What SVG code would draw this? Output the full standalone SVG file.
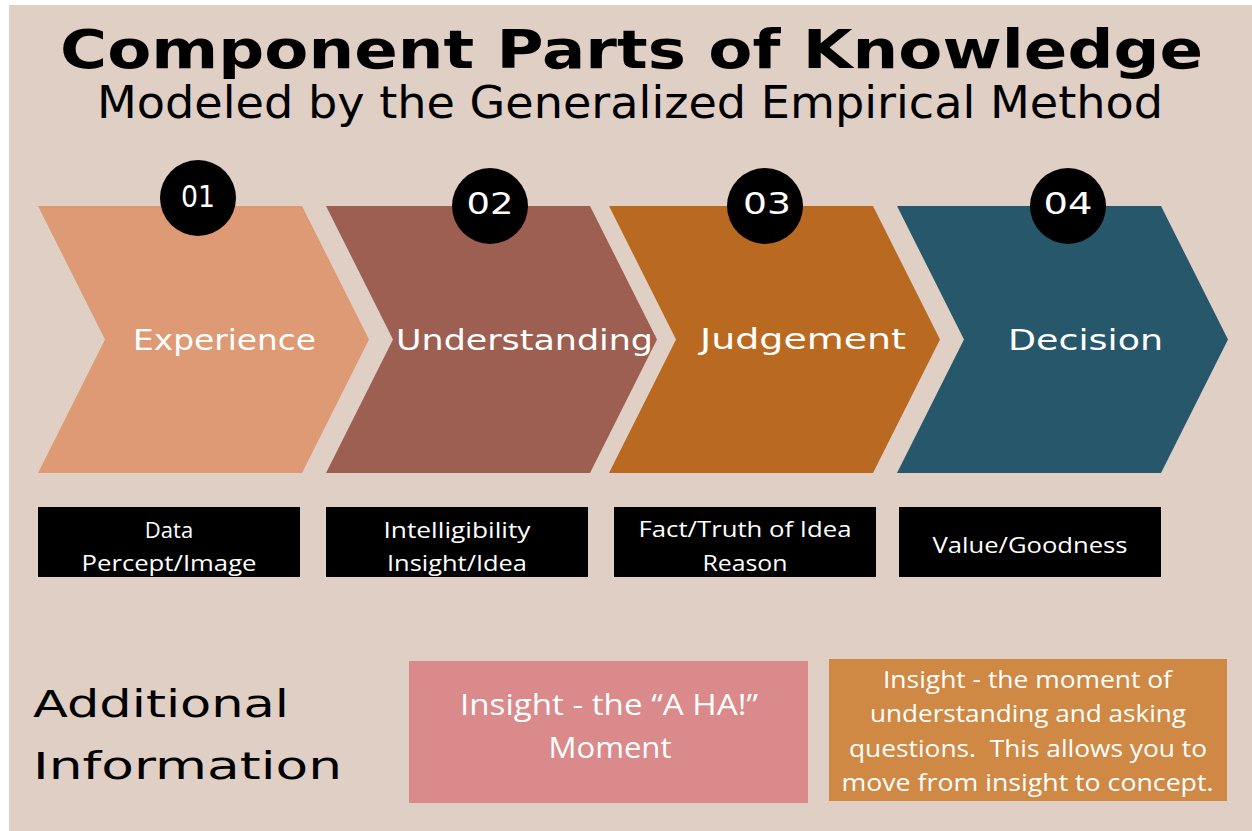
<svg xmlns="http://www.w3.org/2000/svg" xmlns:xlink="http://www.w3.org/1999/xlink" width="1252" height="831" viewBox="0 0 1252 831">
  <style>
    .wide { font-family: "DejaVu Sans", "Liberation Sans", sans-serif; }
    .title { font-size: 54px; font-weight: 700; fill: #000; }
    .subtitle { font-size: 44px; fill: #000; }
    .step { font-size: 28px; fill: #fff; text-anchor: middle; }
    .num { font-size: 31px; fill: #fff; text-anchor: middle; }
    .note { font-family: "Open Sans", "Liberation Sans", sans-serif; fill: #fff; text-anchor: middle; }
    .box-text { font-size: 22px; }
    .pink-text { font-size: 29px; }
    .orange-text { font-size: 24px; }
    .heading { font-size: 37px; fill: #000; }
  </style>
  <defs>
    <!-- chevron shape, origin at its top-left corner -->
    <path id="chevron" d="M0,206 L264,206 L331,339.5 L264,473 L0,473 L67,339.5 Z"/>
  </defs>

  <!-- page -->
  <rect x="0" y="0" width="1252" height="831" fill="#ffffff"/>
  <rect x="9" y="5" width="1243" height="826" fill="#DFCFC5"/>

  <!-- heading -->
  <g id="title">
    <text class="wide title" x="60" y="68" textLength="1143" lengthAdjust="spacingAndGlyphs">Component Parts of Knowledge</text>
    <text class="wide subtitle" x="97" y="118" textLength="1066" lengthAdjust="spacingAndGlyphs">Modeled by the Generalized Empirical Method</text>
  </g>

  <!-- step 1 -->
  <g id="step-experience">
    <use xlink:href="#chevron" href="#chevron" x="38" fill="#DD9A74"/>
    <text class="wide step" x="224.5" y="350" textLength="183" lengthAdjust="spacingAndGlyphs">Experience</text>
    <circle cx="198" cy="198" r="38" fill="#000"/>
    <text class="wide num" x="198" y="207" textLength="34" lengthAdjust="spacingAndGlyphs">01</text>
  </g>

  <!-- step 2 -->
  <g id="step-understanding">
    <use xlink:href="#chevron" href="#chevron" x="326" fill="#9C5F51"/>
    <text class="wide step" x="524.5" y="350" textLength="257" lengthAdjust="spacingAndGlyphs">Understanding</text>
    <circle cx="490" cy="206" r="38" fill="#000"/>
    <text class="wide num" x="490" y="214" textLength="47" lengthAdjust="spacingAndGlyphs">02</text>
  </g>

  <!-- step 3 -->
  <g id="step-judgement">
    <use xlink:href="#chevron" href="#chevron" x="609" fill="#BA6A20"/>
    <text class="wide step" x="803" y="349" textLength="206" lengthAdjust="spacingAndGlyphs">Judgement</text>
    <circle cx="765" cy="206" r="38" fill="#000"/>
    <text class="wide num" x="767" y="214" textLength="48" lengthAdjust="spacingAndGlyphs">03</text>
  </g>

  <!-- step 4 -->
  <g id="step-decision">
    <use xlink:href="#chevron" href="#chevron" x="897" fill="#27576B"/>
    <text class="wide step" x="1085.5" y="350" textLength="155" lengthAdjust="spacingAndGlyphs">Decision</text>
    <circle cx="1068" cy="206" r="38" fill="#000"/>
    <text class="wide num" x="1068" y="214" textLength="49" lengthAdjust="spacingAndGlyphs">04</text>
  </g>

  <!-- descriptor boxes under each step -->
  <g id="desc-experience">
    <rect x="38" y="507" width="262" height="70" fill="#000"/>
    <text class="note box-text" x="169" y="538">Data</text>
    <text class="note box-text" x="169" y="571" textLength="175" lengthAdjust="spacingAndGlyphs">Percept/Image</text>
  </g>
  <g id="desc-understanding">
    <rect x="326" y="507" width="262" height="70" fill="#000"/>
    <text class="note box-text" x="457" y="538" textLength="147" lengthAdjust="spacingAndGlyphs">Intelligibility</text>
    <text class="note box-text" x="457" y="571" textLength="140" lengthAdjust="spacingAndGlyphs">Insight/Idea</text>
  </g>
  <g id="desc-judgement">
    <rect x="614" y="507" width="262" height="70" fill="#000"/>
    <text class="note box-text" x="745" y="537" textLength="213" lengthAdjust="spacingAndGlyphs">Fact/Truth of Idea</text>
    <text class="note box-text" x="745" y="571" textLength="85" lengthAdjust="spacingAndGlyphs">Reason</text>
  </g>
  <g id="desc-decision">
    <rect x="899" y="507" width="262" height="70" fill="#000"/>
    <text class="note box-text" x="1030" y="553" textLength="195" lengthAdjust="spacingAndGlyphs">Value/Goodness</text>
  </g>

  <!-- additional information -->
  <g id="additional-heading">
    <text class="wide heading" x="33" y="717" textLength="256" lengthAdjust="spacingAndGlyphs">Additional</text>
    <text class="wide heading" x="33" y="779" textLength="309" lengthAdjust="spacingAndGlyphs">Information</text>
  </g>

  <g id="note-aha">
    <rect x="409" y="661" width="399" height="142" fill="#DA8A8A"/>
    <text class="note pink-text" x="609" y="715" textLength="298" lengthAdjust="spacingAndGlyphs">Insight - the “A HA!”</text>
    <text class="note pink-text" x="610" y="758" textLength="123" lengthAdjust="spacingAndGlyphs">Moment</text>
  </g>

  <g id="note-understanding">
    <rect x="829" y="659" width="398" height="142" fill="#CF8944"/>
    <text class="note orange-text" x="1027.5" y="688" textLength="289" lengthAdjust="spacingAndGlyphs">Insight - the moment of</text>
    <text class="note orange-text" x="1028" y="722" textLength="316" lengthAdjust="spacingAndGlyphs">understanding and asking</text>
    <text class="note orange-text" x="1028" y="757" textLength="358" lengthAdjust="spacingAndGlyphs" xml:space="preserve">questions.  This allows you to</text>
    <text class="note orange-text" x="1027.5" y="791" textLength="372" lengthAdjust="spacingAndGlyphs">move from insight to concept.</text>
  </g>

  <!-- the steps are laid edge to edge; there are no separate connectors -->
  <g id="connectors"/>
</svg>
